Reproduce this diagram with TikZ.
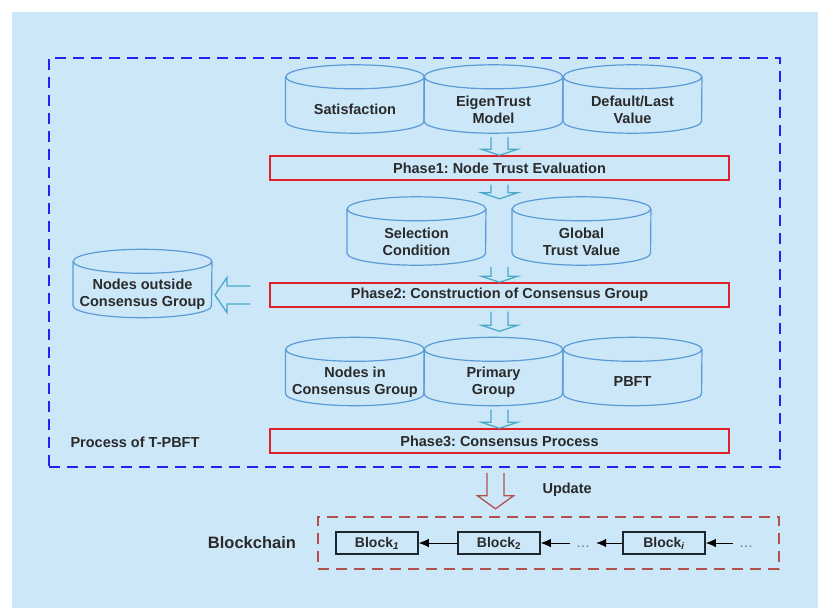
\documentclass[tikz,border=0pt]{standalone}
\usepackage{fontspec}
\setmainfont{Liberation Sans}
\usepackage{xcolor}
\usetikzlibrary{arrows.meta,calc,positioning}
\frenchspacing
\definecolor{panelblue}{HTML}{CCE8F8}
\definecolor{cylblue}{HTML}{5A9AD6}
\definecolor{arrowteal}{HTML}{4AA8C8}
\definecolor{phasered}{HTML}{E0202A}
\definecolor{procblue}{HTML}{2222F2}
\definecolor{chainred}{HTML}{B4504C}
\definecolor{blockdark}{HTML}{1E262C}
\definecolor{textgray}{HTML}{2A2A2A}
\tikzset{
  cylbox/.style={inner sep=0pt,minimum width=138.5pt,minimum height=68pt},
  cylline/.style={draw=cylblue,line width=1.2pt},
  cyltext/.style={align=center,font=\fontsize{14.5}{17}\selectfont\bfseries,text=textgray},
  phasebox/.style={draw=phasered,line width=1.4pt,minimum width=459pt,minimum height=24pt,inner sep=0pt,font=\fontsize{14.5}{17}\selectfont\bfseries,text=textgray},
  procbox/.style={draw=procblue,line width=1.6pt,dash pattern=on 11pt off 7pt,minimum width=731pt,minimum height=409pt,inner sep=0pt},
  chainbox/.style={draw=chainred,line width=1.3pt,dash pattern=on 11pt off 7pt,minimum width=461pt,minimum height=52pt,inner sep=0pt},
  bluehollow/.style={draw=arrowteal,line width=1.3pt},
  redhollow/.style={draw=chainred,line width=1.3pt},
  blockbox/.style={draw=blockdark,line width=1.5pt,minimum width=82pt,minimum height=22pt,inner sep=0pt,font=\fontsize{14}{16}\selectfont\bfseries,text=textgray},
  chainarrow/.style={-{Latex[length=10pt,width=8.5pt]},line width=0.9pt,black},
  dotsnode/.style={inner xsep=6pt,inner ysep=0pt,text height=9pt,text depth=0pt,font=\fontsize{14}{15}\selectfont,text=gray!80!black},
  plainlabel/.style={font=\fontsize{14.5}{17}\selectfont\bfseries,text=textgray}
}
% database cylinder: name, x, y, label
\newcommand{\dbcyl}[4]{%
  \node[cylbox] (#1) at (#2,#3) {};
  \draw[cylline] ($(#1.north west)+(0,12)$) -- ($(#1.south west)+(0,-12)$)
    arc[start angle=180,end angle=360,x radius=69.25pt,y radius=12pt] -- ($(#1.north east)+(0,12)$);
  \draw[cylline] ($(#1.north)+(0,12)$) ellipse[x radius=69.25pt,y radius=12pt];
  \node[cyltext] at ($(#1.center)+(0,10.5)$) {#4};
}
% open block arrows: style, from, to, head length
\newcommand{\hollowdown}[4]{%
  \draw[#1] let \p1=#2, \p2=#3 in
    (\x1-8.5pt,\y1) -- (\x1-8.5pt,\y2+#4) -- (\x1-18pt,\y2+#4) -- (\x1,\y2)
    -- (\x1+18pt,\y2+#4) -- (\x1+8.5pt,\y2+#4) -- (\x1+8.5pt,\y1);
}
\newcommand{\hollowleft}[4]{%
  \draw[#1] let \p1=#2, \p2=#3 in
    (\x1,\y1+9pt) -- (\x2+#4,\y1+9pt) -- (\x2+#4,\y1+17.5pt) -- (\x2,\y1)
    -- (\x2+#4,\y1-17.5pt) -- (\x2+#4,\y1-9pt) -- (\x1,\y1-9pt);
}
\begin{document}
\begin{tikzpicture}[x=1pt,y=-1pt]
\useasboundingbox (0,0) rectangle (818,608);
\fill[panelblue] (12,12) rectangle (818,608);
\node[procbox] (proc) at (414.5,262.5) {};
\node[plainlabel,anchor=west] (proclabel) at (67,442) {Process of T-PBFT};
% phase 1
\dbcyl{sat}{355}{99}{Satisfaction}
\dbcyl{eig}{493.5}{99}{EigenTrust\\Model}
\dbcyl{dlv}{632.5}{99}{Default/Last\\Value}
\node[phasebox] (p1) at (499.5,168) {Phase1: Node Trust Evaluation};
% phase 2
\dbcyl{sel}{416.5}{231}{Selection\\Condition}
\dbcyl{gtv}{581.5}{231}{Global\\Trust Value}
\node[phasebox] (p2) at (499.5,295) {Phase2: Construction of Consensus Group};
\dbcyl{out}{142.5}{283.5}{Nodes outside\\Consensus Group}
% phase 3
\dbcyl{nin}{355}{371.5}{Nodes in\\Consensus Group}
\dbcyl{prim}{493.5}{371.5}{Primary\\Group}
\dbcyl{pbft}{632.5}{371.5}{PBFT}
\node[phasebox] (p3) at (499.5,441) {Phase3: Consensus Process};
\hollowdown{bluehollow}{($(eig.south -| p1.north)+(0,4)$)}{(p1.north)}{6pt}
\hollowdown{bluehollow}{($(p1.south)+(0,4)$)}{($(sel.north -| p1.south)+(0,2)$)}{6pt}
\hollowdown{bluehollow}{($(sel.south -| p2.north)+(0,2)$)}{(p2.north)}{6pt}
\hollowdown{bluehollow}{($(p2.south)+(0,4)$)}{($(nin.north -| p2.south)+(0,-6)$)}{6pt}
\hollowdown{bluehollow}{($(prim.south -| p3.north)+(0,4)$)}{(p3.north)}{6pt}
\hollowleft{bluehollow}{($(p2.west)+(-19,0)$)}{($(out.east)+(3,0)$)}{12pt}
% blockchain
\hollowdown{redhollow}{($(proc.south -| p3.south)+(-4,5)$)}{($(proc.south -| p3.south)+(-4,41)$)}{13pt}
\node[plainlabel,anchor=west] (upd) at (539,490) {Update};
\node[chainbox] (chain) at (548.5,543) {};
\node[font=\fontsize{16.5}{19}\selectfont\bfseries,text=textgray] (chainlabel) at (252,543) {Blockchain};
\node[blockbox] (blk1) at (377,543) {Block\textsubscript{\textit{1}}};
\node[blockbox] (blk2) at (499,543) {Block\textsubscript{2}};
\node[dotsnode] (dots1) at (583,543) {\ldots};
\node[blockbox] (blki) at (664,543) {Block\textsubscript{\textit{i}}};
\node[dotsnode] (dots2) at (746,543) {\ldots};
\draw[chainarrow] (blk2) -- (blk1);
\draw[chainarrow] (dots1) -- (blk2);
\draw[chainarrow] (blki) -- (dots1);
\draw[chainarrow] (dots2) -- (blki);
\end{tikzpicture}
\end{document}
